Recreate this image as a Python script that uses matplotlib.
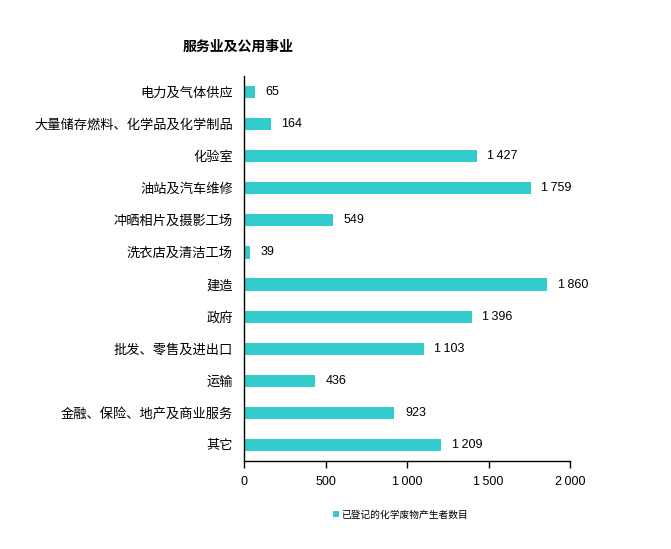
import matplotlib
matplotlib.use("Agg")
import matplotlib.pyplot as plt

plt.rcParams['font.family'] = ['Liberation Sans', 'Noto Sans CJK SC', 'DejaVu Sans']

categories = ['电力及气体供应', '大量储存燃料、化学品及化学制品', '化验室', '油站及汽车维修',
              '冲晒相片及摄影工场', '洗衣店及清洁工场', '建造', '政府',
              '批发、零售及进出口', '运输', '金融、保险、地产及商业服务', '其它']
values = [65, 164, 1427, 1759, 549, 39, 1860, 1396, 1103, 436, 923, 1209]
xticks = [0, 500, 1000, 1500, 2000]
series_name = '已登记的化学废物产生者数目'
title = '服务业及公用事业'

color = '#33CCCC'


def fmt(v):
    # thin space as thousands separator
    return '{:,}'.format(v).replace(',', '\u2009')


fig = plt.figure(figsize=(6.71, 5.49), dpi=100)
ax = fig.add_axes([0.3636, 0.1603, 0.486, 0.7013])

ypos = list(range(len(categories)))
bars = ax.barh(ypos, values, height=0.38, color=color, label=series_name)
ax.set_ylim(len(categories) - 0.5, -0.5)
ax.set_xlim(0, 2000)

for y, v in zip(ypos, values):
    ax.annotate(fmt(v), (v, y), xytext=(7.5, 0), textcoords='offset points',
                va='center', ha='left', fontsize=9, color='black')

ax.set_yticks(ypos)
ax.set_yticklabels(categories, fontsize=9.5)
ax.tick_params(axis='y', length=0, pad=8)
ax.set_xticks(xticks)
ax.set_xticklabels([fmt(t) for t in xticks], fontsize=9)
ax.tick_params(axis='x', direction='out', length=5, width=1, pad=6)

for s in ['top', 'right']:
    ax.spines[s].set_visible(False)
ax.spines['left'].set_linewidth(1)
ax.spines['bottom'].set_linewidth(1)

fig.text(0.355, 0.914, title, ha='center', va='center', fontsize=10, fontweight='bold')

fig.legend(handles=[bars], labels=[series_name], loc='center', bbox_to_anchor=(0.597, 0.063),
           frameon=False, fontsize=7, handlelength=0.6, handleheight=0.6, handletextpad=0.3)

fig.savefig('out.png', dpi=100)
